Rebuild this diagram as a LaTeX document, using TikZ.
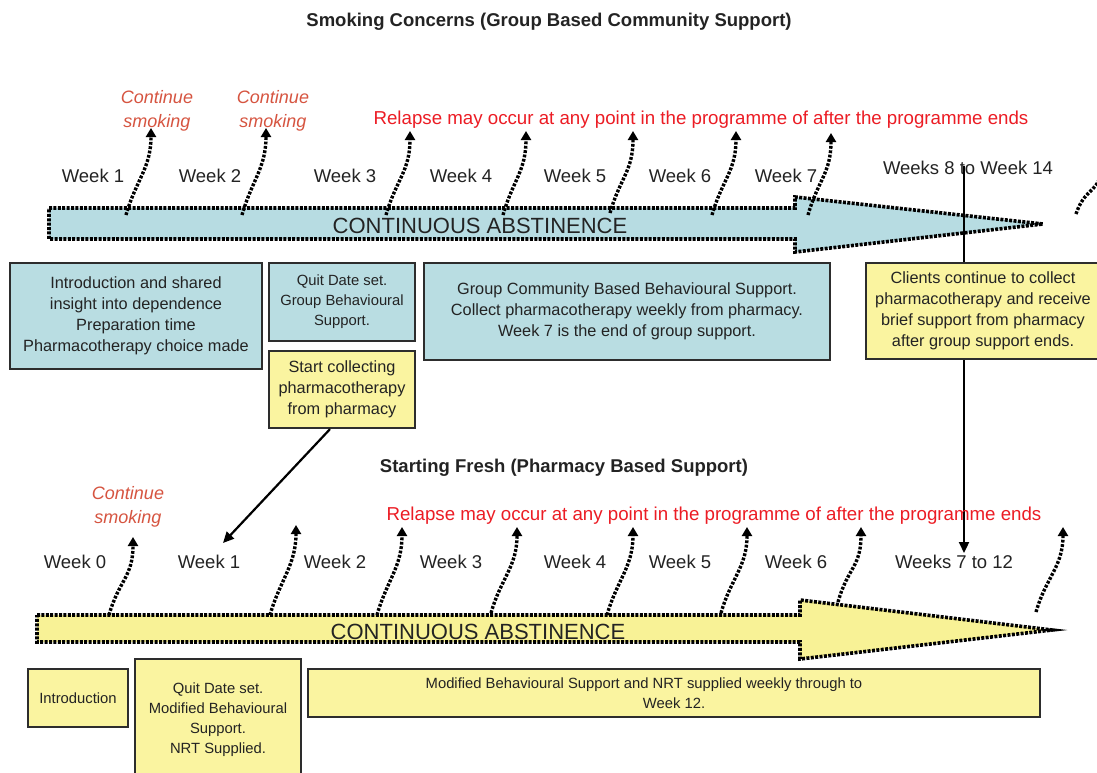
\documentclass[tikz,border=0pt]{standalone}
\usepackage{fontspec}
\setmainfont{Liberation Sans}
\usetikzlibrary{arrows.meta,calc}
\definecolor{boxblue}{RGB}{185,221,226}
\definecolor{boxyellow}{RGB}{250,244,160}
\definecolor{arryellow}{RGB}{248,242,150}
\definecolor{arrblue}{RGB}{183,220,226}
\definecolor{edge}{RGB}{45,45,45}
\definecolor{relred}{RGB}{236,28,36}
\definecolor{contred}{RGB}{214,84,64}
\definecolor{ink}{RGB}{35,35,35}
\begin{document}
\begin{tikzpicture}[x=1pt,y=-1pt,
  box/.style={draw=edge,line width=2.2pt,inner sep=0pt,align=center,text=ink,font=\fontsize{16.3}{21}\selectfont},
  bluebox/.style={box,fill=boxblue},
  yelbox/.style={box,fill=boxyellow},
  smallbox/.style={font=\fontsize{14.8}{20}\selectfont},
  wk/.style={font=\fontsize{18.5}{18.5}\selectfont,text=ink,inner sep=0pt},
  ttl/.style={font=\bfseries\fontsize{18.5}{18.5}\selectfont,text=ink,inner sep=0pt},
  relapse/.style={font=\fontsize{18.7}{18.7}\selectfont,text=relred,inner sep=0pt},
  contsmk/.style={font=\itshape\fontsize{18}{24}\selectfont,text=contred,inner sep=0pt,align=center},
  abst/.style={font=\fontsize{22}{22}\selectfont,text=ink,inner sep=0pt},
  bar/.style={draw=black,line width=3.6pt,dash pattern=on 3pt off 1.4pt,line join=miter},
  dotarrow/.style={draw=black,line width=3.4pt,dash pattern=on 2.8pt off 1.6pt,-{Triangle[width=10pt,length=9pt]}},
  dotline/.style={draw=black,line width=3.4pt,dash pattern=on 2.8pt off 1.6pt},
  solidarrow/.style={draw=black,line width=2.2pt,-{Triangle[width=10pt,length=11pt]}}
]
\clip (0,0) rectangle (1097,772);
\fill[white] (0,0) rectangle (1097,772);

% ---------- titles ----------
\node[ttl] (title1) at (549,22) {Smoking Concerns (Group Based Community Support)};
\node[ttl] (title2) at (564,468) {Starting Fresh (Pharmacy Based Support)};

% ---------- upper timeline ----------
\node[relapse] (rel1) at (701,120) {Relapse may occur at any point in the programme of after the programme ends};
\node[contsmk] (cs1) at (157,111) {Continue\\smoking};
\node[contsmk] (cs2) at (273,111) {Continue\\smoking};

\draw[bar,fill=arrblue] (49,208) -- (795,208) -- (795,197) -- (1043,224) -- (795,252) -- (795,239) -- (49,239) -- cycle;
\node[abst] (abs1) at (480,226) {CONTINUOUS ABSTINENCE};

\node[wk] (uw1) at (93,176) {Week 1};
\node[wk] (uw2) at (210,176) {Week 2};
\node[wk] (uw3) at (345,176) {Week 3};
\node[wk] (uw4) at (461,176) {Week 4};
\node[wk] (uw5) at (575,176) {Week 5};
\node[wk] (uw6) at (680,176) {Week 6};
\node[wk] (uw7) at (786,176) {Week 7};
\node[wk] (uw8) at (968,168) {Weeks 8 to Week 14};

\foreach \n/\bx/\by/\tx/\ty in {a/126/215/151/128, b/242/215/266/128, c/386/215/410/131, d/503/215/526/131, e/610/213/633/131, f/712/215/736/131, g/808/215/831/133}{
  \coordinate (ub\n) at (\bx,\by);
  \coordinate (ut\n) at (\tx,\ty);
  \draw[dotarrow] (ub\n) .. controls +(10,-35) and +(0,40) .. (ut\n);
}
\coordinate (ubx) at (1076,214);
\coordinate (utx) at (1102,160);
\draw[dotline] (ubx) .. controls +(10,-30) and +(0,35) .. (utx);

% vertical connector (behind box E)
\coordinate (vtop) at (964,166);
\coordinate (vend) at (964,553);
\draw[solidarrow] (vtop) -- (vend);

% ---------- upper boxes ----------
\node[bluebox,minimum width=252pt,minimum height=106pt] (boxA) at (136,316)
  {Introduction and shared\\insight into dependence\\Preparation time\\Pharmacotherapy choice made};
\node[bluebox,smallbox,minimum width=146pt,minimum height=78pt] (boxB) at (342,302)
  {Quit Date set.\\Group Behavioural\\Support.};
\node[yelbox,minimum width=146pt,minimum height=77pt] (boxC) at (342,389.5)
  {Start collecting\\pharmacotherapy\\from pharmacy};
\node[bluebox,minimum width=406pt,minimum height=97pt] (boxD) at (627,311.5)
  {Group Community Based Behavioural Support.\\Collect pharmacotherapy weekly from pharmacy.\\Week 7 is the end of group support.};
\node[yelbox,minimum width=234pt,minimum height=96pt] (boxE) at (983,311)
  {Clients continue to collect\\pharmacotherapy and receive\\brief support from pharmacy\\after group support ends.};

% connector from box C to lower Week 1
\coordinate (saend) at (223,543);
\draw[solidarrow] ($(boxC.south)+(-12,0)$) -- (saend);

% ---------- lower timeline ----------
\node[relapse] (rel2) at (714,516) {Relapse may occur at any point in the programme of after the programme ends};
\node[contsmk] (cs3) at (128,507) {Continue\\smoking};

\draw[bar,fill=arryellow] (37,615) -- (800,615) -- (800,600) -- (1052,630) -- (800,659) -- (800,642) -- (37,642) -- cycle;
\node[abst] (abs2) at (478,632) {CONTINUOUS ABSTINENCE};

\node[wk] (lw0) at (75,562) {Week 0};
\node[wk] (lw1) at (209,562) {Week 1};
\node[wk] (lw2) at (335,562) {Week 2};
\node[wk] (lw3) at (451,562) {Week 3};
\node[wk] (lw4) at (575,562) {Week 4};
\node[wk] (lw5) at (680,562) {Week 5};
\node[wk] (lw6) at (796,562) {Week 6};
\node[wk] (lw7) at (954,562) {Weeks 7 to 12};

\foreach \n/\bx/\by/\tx/\ty in {a/109/615/133/537, b/270/615/296/525, c/377/615/402/527, d/491/613/517/527, e/607/615/633/527, f/721/613/747/527, g/838/602/861/527, h/1036/612/1063/527}{
  \coordinate (lb\n) at (\bx,\by);
  \coordinate (lt\n) at (\tx,\ty);
  \draw[dotarrow] (lb\n) .. controls +(10,-35) and +(0,40) .. (lt\n);
}

% ---------- lower boxes ----------
\node[yelbox,smallbox,minimum width=100pt,minimum height=58pt] (boxF) at (78,698) {Introduction};
\node[yelbox,smallbox,minimum width=166pt,minimum height=121pt] (boxG) at (218,719.5)
  {Quit Date set.\\Modified Behavioural\\Support.\\NRT Supplied.};
\node[yelbox,smallbox,minimum width=732pt,minimum height=48pt] (boxH) at (674,693)
  {Modified Behavioural Support and NRT supplied weekly through to\hspace*{60pt}\\Week 12.};
\end{tikzpicture}
\end{document}
